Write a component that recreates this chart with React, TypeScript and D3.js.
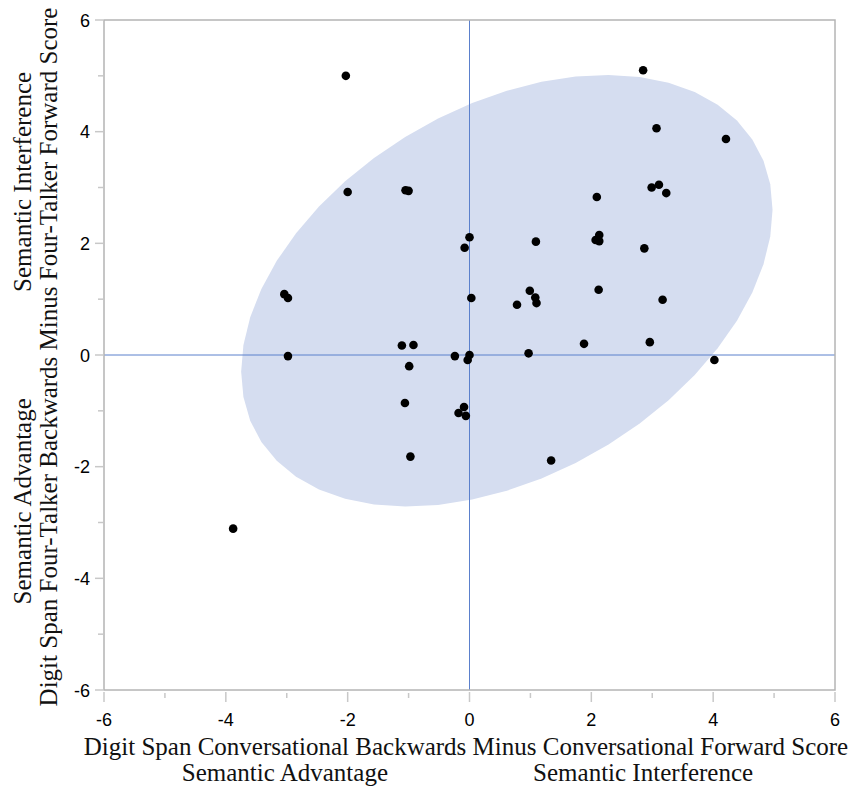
import React, { useEffect, useRef } from 'react'
import * as d3 from 'd3'

// conversational backwards minus forward (x) and four-talker backwards minus forward (y)
const xValues = [
  -2.03, -2.0, -1.05, -1.0, 2.09, 2.85, 3.07, 4.21, 2.99, 3.11, 3.23,
  -3.04, -2.98, -2.98, -1.11, -0.92, -0.99, 0.0, -0.08, 1.09, 2.13, 2.07,
  2.13, 0.03, 0.99, 1.08, 1.1, 0.78, 2.12, 1.88, 0.97, -0.24, 0.0, -0.03,
  2.87, 3.17, 2.96, 4.02, -1.06, -0.09, -0.18, -0.06, -0.97, 1.34, -3.88
]
const yValues = [
  5.0, 2.92, 2.95, 2.94, 2.83, 5.1, 4.06, 3.87, 3.0, 3.05, 2.9,
  1.09, 1.02, -0.02, 0.17, 0.18, -0.2, 2.11, 1.92, 2.03, 2.15, 2.06,
  2.04, 1.02, 1.15, 1.03, 0.93, 0.9, 1.17, 0.2, 0.03, -0.02, 0.0, -0.09,
  1.91, 0.99, 0.23, -0.09, -0.86, -0.93, -1.04, -1.09, -1.82, -1.89, -3.11
]
const majorTicks = [-6, -4, -2, 0, 2, 4, 6]
const minorTicks = [-5, -3, -1, 1, 3, 5]
const xTitle = 'Digit Span Conversational Backwards Minus Conversational Forward Score'
const yTitle = 'Digit Span Four-Talker Backwards Minus Four-Talker Forward Score'
const lowLabel = 'Semantic Advantage'
const highLabel = 'Semantic Interference'
const ellipseCoverage = 4.605 // chi-square(2) at 0.90

const width = 853
const height = 790
const margin = { left: 104, top: 20, right: 18, bottom: 100 }

function Chart() {
  const ref = useRef<SVGSVGElement | null>(null)

  useEffect(() => {
    const svg = d3.select(ref.current)
    svg.selectAll('*').remove()

    const x = d3.scaleLinear().domain([-6, 6]).range([margin.left, width - margin.right])
    const y = d3.scaleLinear().domain([-6, 6]).range([height - margin.bottom, margin.top])
    const fmt = (v: number) => String(v)

    const points = xValues.map((v, i) => ({ x: v, y: yValues[i] }))

    // density ellipse from mean + covariance
    const mx = d3.mean(points, d => d.x) as number
    const my = d3.mean(points, d => d.y) as number
    const n = points.length
    let sxx = 0, syy = 0, sxy = 0
    for (const p of points) {
      sxx += (p.x - mx) ** 2
      syy += (p.y - my) ** 2
      sxy += (p.x - mx) * (p.y - my)
    }
    sxx /= n - 1; syy /= n - 1; sxy /= n - 1
    const l11 = Math.sqrt(sxx)
    const l21 = sxy / l11
    const l22 = Math.sqrt(syy - l21 * l21)
    const c = Math.sqrt(ellipseCoverage)
    const ring = d3.range(0, 48).map(i => {
      const t = (i / 48) * 2 * Math.PI
      const u = Math.cos(t) * c, w = Math.sin(t) * c
      return [x(mx + l11 * u), y(my + l21 * u + l22 * w)] as [number, number]
    })
    svg.append('path')
      .attr('d', d3.line().curve(d3.curveLinearClosed)(ring))
      .attr('fill', '#d5ddf0')

    // reference lines at zero
    svg.append('line')
      .attr('x1', x(0)).attr('x2', x(0))
      .attr('y1', y(6)).attr('y2', y(-6))
      .attr('stroke', '#5b80cc').attr('stroke-width', 1)
    svg.append('line')
      .attr('x1', x(-6)).attr('x2', x(6))
      .attr('y1', y(0)).attr('y2', y(0))
      .attr('stroke', '#5b80cc').attr('stroke-width', 1)

    // frame
    svg.append('rect')
      .attr('x', x(-6)).attr('y', y(6))
      .attr('width', x(6) - x(-6)).attr('height', y(-6) - y(6))
      .attr('fill', 'none').attr('stroke', '#b4b4b4').attr('stroke-width', 1.5)

    // ticks
    const tickColor = '#c8c8c8'
    const gx = svg.append('g')
    gx.selectAll('line.major').data(majorTicks).join('line')
      .attr('x1', d => x(d)).attr('x2', d => x(d))
      .attr('y1', y(-6) + 2).attr('y2', y(-6) + 12)
      .attr('stroke', tickColor).attr('stroke-width', 1.5)
    gx.selectAll('line.minor').data(minorTicks).join('line')
      .attr('x1', d => x(d)).attr('x2', d => x(d))
      .attr('y1', y(-6) + 3).attr('y2', y(-6) + 8)
      .attr('stroke', tickColor).attr('stroke-width', 1.5)
    gx.selectAll('text').data(majorTicks).join('text')
      .attr('x', d => x(d)).attr('y', y(-6) + 36)
      .attr('text-anchor', 'middle')
      .attr('font-family', 'Liberation Sans, Arial, sans-serif')
      .attr('font-size', 18)
      .text(fmt)

    const gy = svg.append('g')
    gy.selectAll('line.major').data(majorTicks).join('line')
      .attr('x1', x(-6) - 9).attr('x2', x(-6) - 1)
      .attr('y1', d => y(d)).attr('y2', d => y(d))
      .attr('stroke', tickColor).attr('stroke-width', 1.5)
    gy.selectAll('line.minor').data(minorTicks).join('line')
      .attr('x1', x(-6) - 6).attr('x2', x(-6) - 1)
      .attr('y1', d => y(d)).attr('y2', d => y(d))
      .attr('stroke', tickColor).attr('stroke-width', 1.5)
    gy.selectAll('text').data(majorTicks).join('text')
      .attr('x', x(-6) - 14).attr('y', d => y(d) + 6.5)
      .attr('text-anchor', 'end')
      .attr('font-family', 'Liberation Sans, Arial, sans-serif')
      .attr('font-size', 18)
      .text(fmt)

    // points
    svg.append('g').selectAll('circle').data(points).join('circle')
      .attr('cx', d => x(d.x)).attr('cy', d => y(d.y))
      .attr('r', 4.3).attr('fill', '#000')

    // axis titles
    const serif = 'Liberation Serif, Times New Roman, serif'
    const title = (sel: any) => sel.attr('font-family', serif).attr('font-size', 25).attr('fill', '#111')

    title(svg.append('text'))
      .attr('x', 466).attr('y', 755).attr('text-anchor', 'middle').text(xTitle)
    title(svg.append('text'))
      .attr('x', x(-3.03)).attr('y', 781).attr('text-anchor', 'middle').text(lowLabel)
    title(svg.append('text'))
      .attr('x', x(2.85)).attr('y', 781).attr('text-anchor', 'middle').text(highLabel)

    title(svg.append('text'))
      .attr('transform', `translate(57,357) rotate(-90)`)
      .attr('text-anchor', 'middle').text(yTitle)
    title(svg.append('text'))
      .attr('transform', `translate(31,${y(3.1)}) rotate(-90)`)
      .attr('text-anchor', 'middle').text(highLabel)
    title(svg.append('text'))
      .attr('transform', `translate(31,${y(-2.62)}) rotate(-90)`)
      .attr('text-anchor', 'middle').text(lowLabel)
  }, [])

  return <svg ref={ref} width={width} height={height} style={{ position: 'absolute', left: 0, top: 0, background: '#fff' }} />
}

export default function App() {
  return <Chart />
}
